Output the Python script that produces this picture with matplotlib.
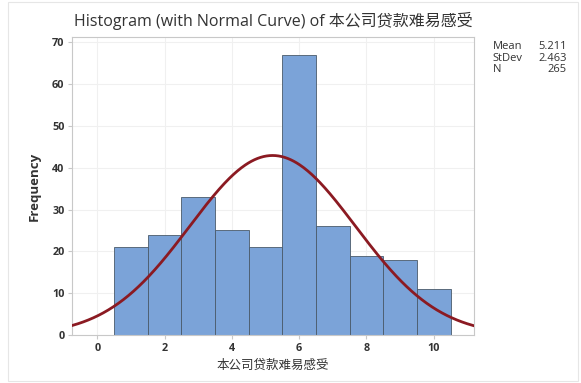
import numpy as np
import matplotlib
matplotlib.use("Agg")
import matplotlib.pyplot as plt
from matplotlib.patches import Rectangle

plt.rcParams['font.family'] = ['Open Sans', 'Noto Sans CJK SC', 'DejaVu Sans']

bin_centers = [1, 2, 3, 4, 5, 6, 7, 8, 9, 10]
counts = [21, 24, 33, 25, 21, 67, 26, 19, 18, 11]
mean = 5.211
stdev = 2.463
n = 265
xticks = [0, 2, 4, 6, 8, 10]
yticks = [0, 10, 20, 30, 40, 50, 60, 70]
title = "Histogram (with Normal Curve) of 本公司贷款难易感受"
xlabel = "本公司贷款难易感受"
ylabel = "Frequency"

fig = plt.figure(figsize=(5.81, 3.83), dpi=100)
fig.patch.set_facecolor('white')
fig.add_artist(Rectangle((0.014, 0.005), 0.98, 0.99, transform=fig.transFigure,
                         fill=False, edgecolor='#e6e6e6', lw=0.8))
ax = fig.add_axes([0.124, 0.125, 0.692, 0.778])

ax.bar(bin_centers, counts, width=1.0, color='#7BA3D8', edgecolor='#4a5a6a', linewidth=0.6, zorder=2)
xs = np.linspace(-0.75, 11.2, 400)
ys = n * 1.0 / (stdev * np.sqrt(2 * np.pi)) * np.exp(-0.5 * ((xs - mean) / stdev) ** 2)
ax.plot(xs, ys, color='#8B1A22', lw=2, zorder=3)

ax.set_xlim(-0.75, 11.2)
ax.set_ylim(0, 71.2)
ax.set_xticks(xticks)
ax.set_yticks(yticks)
ax.grid(True, color='#f0f0f0', lw=0.8, zorder=0)
ax.set_axisbelow(True)
for s in ax.spines.values():
    s.set_color('#c8c8c8')
    s.set_linewidth(0.8)
ax.tick_params(colors='#c8c8c8', labelcolor='#333333', length=3, width=0.8, labelsize=7.8, pad=2.5)
for lab in ax.get_xticklabels() + ax.get_yticklabels():
    lab.set_fontweight('bold')

ax.set_title(title, fontsize=11.5, color='#333333', pad=8)
ax.set_xlabel(xlabel, fontsize=9, color='#333333', labelpad=4)
ax.set_ylabel(ylabel, fontsize=9.5, color='#333333', fontweight='bold', labelpad=8)

labels = ["Mean", "StDev", "N"]
vals = [f"{mean:.3f}", f"{stdev:.3f}", f"{n}"]
for i, (l, v) in enumerate(zip(labels, vals)):
    y = 0.878 - i * 0.030
    fig.text(0.848, y, l, fontsize=8, color='#333333', va='center')
    fig.text(0.976, y, v, fontsize=8, color='#333333', va='center', ha='right')

fig.savefig("out.png", dpi=100, facecolor='white')
